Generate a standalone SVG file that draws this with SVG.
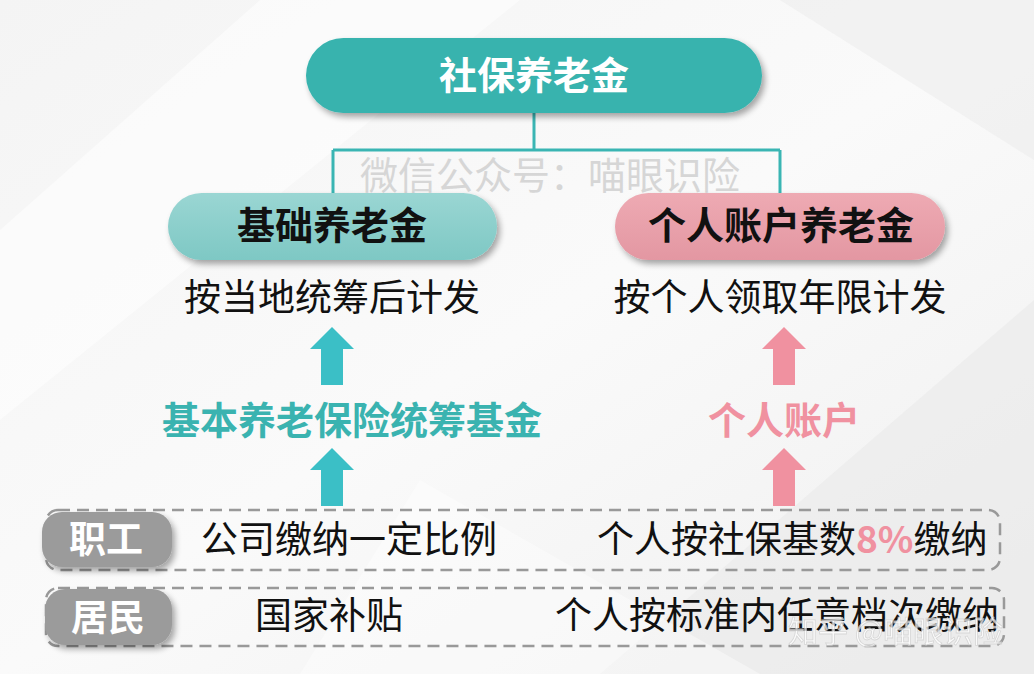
<svg xmlns="http://www.w3.org/2000/svg" width="1034" height="674" viewBox="0 0 1034 674">
<defs>
<linearGradient id="bg" x1="0" y1="0" x2="1" y2="1">
<stop offset="0" stop-color="#f4f4f4"/>
<stop offset="0.5" stop-color="#fafafa"/>
<stop offset="1" stop-color="#efefef"/>
</linearGradient>
<linearGradient id="gTeal" x1="0" y1="0" x2="0" y2="1">
<stop offset="0" stop-color="#9ad6d3"/>
<stop offset="1" stop-color="#7ec8c4"/>
</linearGradient>
<linearGradient id="gPink" x1="0" y1="0" x2="0" y2="1">
<stop offset="0" stop-color="#eeaab3"/>
<stop offset="1" stop-color="#e397a2"/>
</linearGradient>
<filter id="sh" x="-10%" y="-20%" width="125%" height="150%">
<feGaussianBlur in="SourceAlpha" stdDeviation="3"/>
<feOffset dx="3" dy="4" result="b"/>
<feComponentTransfer><feFuncA type="linear" slope="0.35"/></feComponentTransfer>
<feMerge><feMergeNode/><feMergeNode in="SourceGraphic"/></feMerge>
</filter>
<path id="arrow" d="M0,0 L22,22 L11,22 L11,58 L-11,58 L-11,22 L-22,22 Z"/>
</defs>
<style>
text{font-family:"Noto Sans CJK SC","Noto Sans",sans-serif;}
.title{font-size:38px;font-weight:700;text-anchor:middle;}
.body{font-size:37px;fill:#111;}
.lbl{font-size:37px;font-weight:700;fill:#fff;text-anchor:middle;}
.dash{fill:none;stroke:#999;stroke-width:2.5;stroke-dasharray:12 7;}
.conn{fill:none;stroke:#3ab5b3;stroke-width:3;}
.wm{font-size:38px;fill:#d6d6d6;}
</style>
<rect width="1034" height="674" fill="url(#bg)"/>
<polygon points="0,230 260,0 520,0 0,420" fill="#ffffff" opacity="0.5"/>
<polygon points="600,674 1034,300 1034,674" fill="#e9e9e9" opacity="0.6"/>
<polygon points="420,480 760,674 300,674" fill="#ffffff" opacity="0.4"/>
<polygon points="780,0 1034,0 1034,160" fill="#ececec" opacity="0.6"/>

<text class="wm" x="360" y="189">微信公众号：喵眼识险</text>

<g id="connectors">
<path class="conn" d="M534,113 V150 M333,150 H780 M333,150 V196 M780,150 V196"/>
</g>

<g id="root">
<rect x="306" y="38" width="456" height="75" rx="37.5" fill="#37b3ae" filter="url(#sh)"/>
<text class="title" x="534" y="89" fill="#fff">社保养老金</text>
</g>

<g id="basic">
<rect x="168" y="193" width="329" height="67" rx="33.5" fill="url(#gTeal)" filter="url(#sh)"/>
<text class="title" x="332" y="239" fill="#111">基础养老金</text>
<text class="body" x="332" y="311" text-anchor="middle">按当地统筹后计发</text>
</g>

<g id="personal">
<rect x="615" y="193" width="330" height="67" rx="33.5" fill="url(#gPink)" filter="url(#sh)"/>
<text class="title" x="781" y="239" fill="#111">个人账户养老金</text>
<text class="body" x="780" y="311" text-anchor="middle">按个人领取年限计发</text>
</g>

<g id="fund">
<use href="#arrow" x="332" y="327" fill="#3bbfc6"/>
<text x="352" y="434" text-anchor="middle" style="font-size:38px;font-weight:700;fill:#3ab3b0">基本养老保险统筹基金</text>
<use href="#arrow" x="332" y="448" fill="#3bbfc6"/>
</g>

<g id="account">
<use href="#arrow" x="784" y="327" fill="#f091a0"/>
<text x="784" y="434" text-anchor="middle" style="font-size:38px;font-weight:700;fill:#f091a0">个人账户</text>
<use href="#arrow" x="784" y="448" fill="#f091a0"/>
</g>

<g id="row-worker">
<rect class="dash" x="46" y="510" width="954" height="60" rx="12"/>
<rect x="42" y="512" width="130" height="55" rx="20" fill="#9b9b9b" filter="url(#sh)"/>
<text class="lbl" x="106" y="553">职工</text>
<text class="body" x="201" y="553">公司缴纳一定比例</text>
<text class="body" x="597" y="553">个人按社保基数<tspan style="fill:#f091a0;font-weight:700">8%</tspan>缴纳</text>
</g>

<g id="row-resident">
<rect class="dash" x="46" y="588" width="958" height="58" rx="12"/>
<rect x="45" y="589" width="127" height="56" rx="20" fill="#9b9b9b" filter="url(#sh)"/>
<text class="lbl" x="108" y="631">居民</text>
<text class="body" x="255" y="629">国家补贴</text>
<text class="body" x="555" y="629">个人按标准内任意档次缴纳</text>
</g>

<text x="788" y="642" style="font-size:30px;fill:#ffffff;opacity:0.75;stroke:#cfcfcf;stroke-width:0.8">知乎 @喵眼识险</text>
</svg>
